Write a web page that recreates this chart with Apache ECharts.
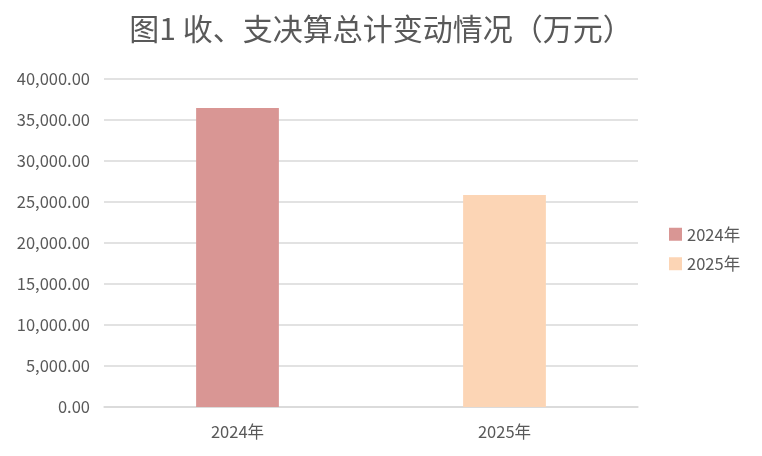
<!DOCTYPE html>
<html>
<head>
<meta charset="utf-8">
<script src="https://cdn.jsdelivr.net/npm/echarts@6/dist/echarts.min.js"></script>
<style>
  html, body { margin: 0; padding: 0; background: #fff; }
  #chart { width: 762px; height: 456px; }
</style>
</head>
<body>
<div id="chart"></div>
<script>
// 数据
const categories = ['2024年', '2025年'];
const seriesNames = ['2024年', '2025年'];
const values = [36460, 25850];
const colors = ['#D99694', '#FCD5B5'];

const fontCJK = '"Noto Sans CJK SC", "Noto Sans", sans-serif';
const textColor = '#595959';

const chart = echarts.init(document.getElementById('chart'));

// 每个年份一个系列，让图例显示两项；用 barGap -100% 让柱子回到各自类目中间
const series = seriesNames.map((name, i) => ({
    name: name,
    type: 'bar',
    barWidth: '31%',
    barGap: '-100%',
    itemStyle: { color: colors[i] },
    data: categories.map((c, j) => (j === i ? values[i] : '-'))
}));

chart.setOption({
    backgroundColor: '#fff',
    animation: false,
    textStyle: { fontFamily: fontCJK },
    title: {
        text: '图1 收、支决算总计变动情况（万元）',
        left: 'center',
        top: 9,
        textStyle: { fontFamily: fontCJK, fontSize: 30, fontWeight: 'normal', color: textColor }
    },
    legend: {
        orient: 'vertical',
        left: 664,
        top: 221,
        itemWidth: 13,
        itemHeight: 13,
        itemGap: 13,
        icon: 'rect',
        textStyle: { fontFamily: fontCJK, fontSize: 16.5, color: textColor },
        data: seriesNames
    },
    grid: { left: 104, right: 124, top: 79, bottom: 49, containLabel: false },
    xAxis: {
        type: 'category',
        data: categories,
        axisLine: { lineStyle: { color: '#D9D9D9', width: 1.5 } },
        axisTick: { show: false },
        axisLabel: { color: textColor, fontSize: 16.5, margin: 16, fontFamily: fontCJK }
    },
    yAxis: {
        type: 'value',
        min: 0,
        max: 40000,
        interval: 5000,
        axisLine: { show: false },
        axisTick: { show: false },
        splitLine: { lineStyle: { color: '#D9D9D9', width: 1.5 } },
        axisLabel: {
            color: textColor,
            fontSize: 16.5,
            margin: 14,
            fontFamily: fontCJK,
            formatter: v => v.toLocaleString('en-US', { minimumFractionDigits: 2, maximumFractionDigits: 2 })
        }
    },
    series: series
});
</script>
</body>
</html>
